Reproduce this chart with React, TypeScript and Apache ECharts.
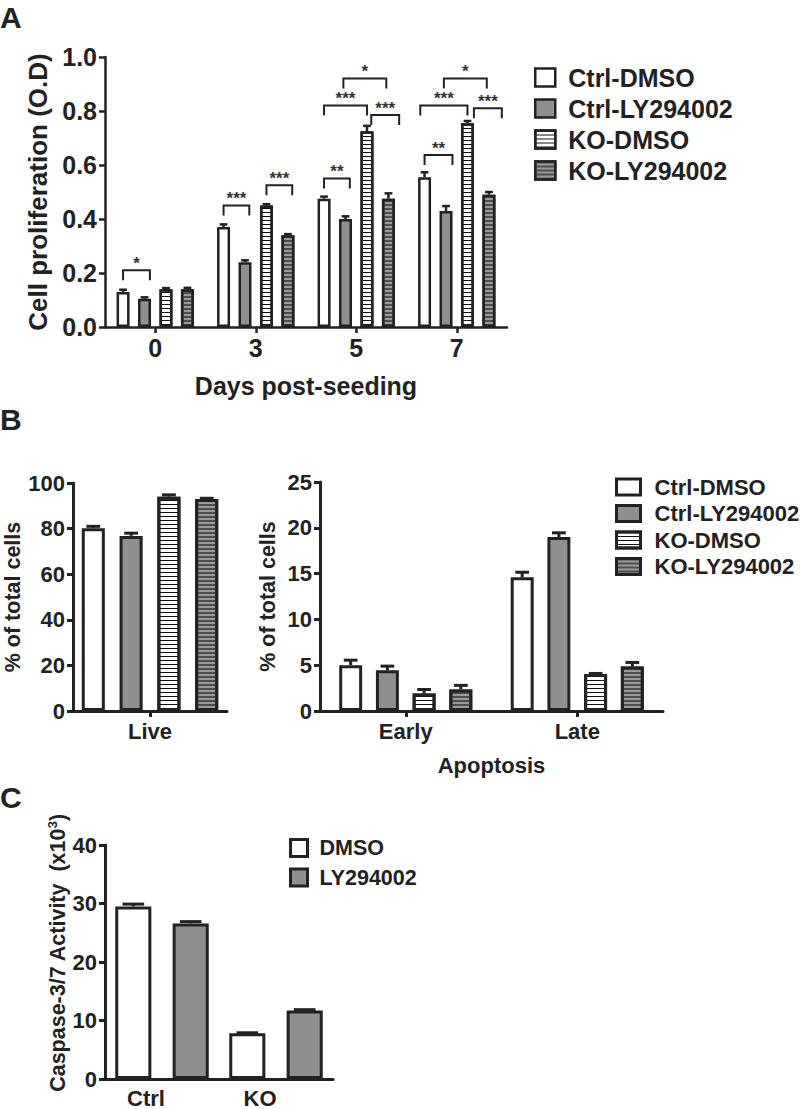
import React, { useEffect, useRef } from 'react';
import * as echarts from 'echarts';

const FONT = '"Liberation Sans", Arial, Helvetica, sans-serif';
const INK = '#222';

// ---------- Panel A : cell proliferation ----------
const GROUPS = ['Ctrl-DMSO', 'Ctrl-LY294002', 'KO-DMSO', 'KO-LY294002'];
const DAYS = ['0', '3', '5', '7'];
const A_CTRL_DMSO = [0.13, 0.37, 0.475, 0.555];
const A_CTRL_LY = [0.105, 0.24, 0.40, 0.43];
const A_KO_DMSO = [0.14, 0.45, 0.725, 0.755];
const A_KO_LY = [0.14, 0.34, 0.475, 0.49];
const A_ERR_CTRL_DMSO = [0.008, 0.01, 0.008, 0.018];
const A_ERR_CTRL_LY = [0.005, 0.007, 0.01, 0.018];
const A_ERR_KO_DMSO = [0.004, 0.005, 0.02, 0.008];
const A_ERR_KO_LY = [0.005, 0.004, 0.02, 0.01];
// [day index, from bar slot, to bar slot, bracket height]
const A_BRACKETS = [
  [0, 0, 1.25, 0.21],
  [1, 0, 1.2, 0.45],
  [1, 2, 3.2, 0.525],
  [2, 0, 1.2, 0.55],
  [2, 0, 2, 0.82],
  [2, 2.2, 3.5, 0.785],
  [2, 0.9, 2.9, 0.92],
  [3, 0, 1.3, 0.637],
  [3, -0.2, 2, 0.82],
  [3, 2.3, 3.6, 0.81],
  [3, 0.9, 2.9, 0.92],
];
const A_BRACKET_LABELS = ['*', '***', '***', '**', '***', '***', '*', '**', '***', '***', '*'];

// ---------- Panel B : live / apoptosis ----------
const B_LIVE_CATS = ['Live'];
const B_LIVE_CTRL_DMSO = [80.2];
const B_LIVE_CTRL_LY = [76.8];
const B_LIVE_KO_DMSO = [94.0];
const B_LIVE_KO_LY = [93.0];
const B_LIVE_ERR_CTRL_DMSO = [0.8];
const B_LIVE_ERR_CTRL_LY = [1.2];
const B_LIVE_ERR_KO_DMSO = [0.8];
const B_LIVE_ERR_KO_LY = [0.3];

const B_APO_CATS = ['Early', 'Late'];
const B_APO_CTRL_DMSO = [5.0, 14.6];
const B_APO_CTRL_LY = [4.45, 19.0];
const B_APO_KO_DMSO = [1.9, 4.05];
const B_APO_KO_LY = [2.35, 4.85];
const B_APO_ERR_CTRL_DMSO = [0.55, 0.55];
const B_APO_ERR_CTRL_LY = [0.45, 0.45];
const B_APO_ERR_KO_DMSO = [0.45, 0.05];
const B_APO_ERR_KO_LY = [0.45, 0.45];

// ---------- Panel C : caspase ----------
const C_CATS = ['Ctrl', 'KO'];
const C_GROUPS = ['DMSO', 'LY294002'];
const C_DMSO = [29.5, 7.8];
const C_LY = [26.6, 11.7];
const C_ERR_DMSO = [0.4, 0.1];
const C_ERR_LY = [0.3, 0.15];

// ---------- styles ----------
const STRIPE_DECAL = {
  symbol: 'rect', symbolSize: 1, dashArrayX: [10, 0], dashArrayY: [1, 3], color: '#111', rotation: 0,
};
const DARK_STRIPE_DECAL = {
  symbol: 'rect', symbolSize: 1, dashArrayX: [10, 0], dashArrayY: [2, 2], color: '#4d4d4d', rotation: 0,
};
function groupStyle(i: number, bw: number) {
  const base: any = { borderColor: INK, borderWidth: bw };
  if (i === 0) return { ...base, color: '#ffffff' };
  if (i === 1) return { ...base, color: '#8f8f8f' };
  if (i === 2) return { ...base, color: '#ffffff', decal: STRIPE_DECAL };
  return { ...base, color: '#9a9a9a', decal: DARK_STRIPE_DECAL };
}

function slotX(api: any, cat: number, slot: number, n: number, catGap: number, barGap: number) {
  const c = api.coord([cat, 0]);
  const band = api.size([1, 0])[0];
  const avail = band * (1 - catGap);
  const w = avail / (n + (n - 1) * barGap);
  return { x: c[0] - avail / 2 + w / 2 + slot * w * (1 + barGap), w };
}

function errorSeries(axisIdx: number, values: number[][], errs: number[][], catGap: number, barGap: number, lw: number) {
  const data: number[][] = [];
  values.forEach((vals, s) => vals.forEach((v, i) => data.push([i, s, v, errs[s][i]])));
  const n = values.length;
  return {
    type: 'custom',
    xAxisIndex: axisIdx,
    yAxisIndex: axisIdx,
    z: 5,
    silent: true,
    encode: { x: 0, y: 2 },
    data,
    renderItem: (params: any, api: any) => {
      const cat = api.value(0), slot = api.value(1), v = api.value(2), e = api.value(3);
      const { x, w } = slotX(api, cat, slot, n, catGap, barGap);
      const base = api.coord([cat, v])[1];
      const top = api.coord([cat, v + e])[1];
      const cap = w * 0.6;
      return {
        type: 'group',
        children: [
          { type: 'line', shape: { x1: x, y1: base, x2: x, y2: top }, style: { stroke: INK, lineWidth: lw } },
          { type: 'line', shape: { x1: x - cap / 2, y1: top, x2: x + cap / 2, y2: top }, style: { stroke: INK, lineWidth: lw } },
        ],
      };
    },
  };
}

function barSeries(names: string[], values: number[][], axisIdx: number, catGap: number, barGap: number, bw: number, styleFn: (i: number, bw: number) => any) {
  return values.map((vals, i) => ({
    type: 'bar',
    name: names[i],
    xAxisIndex: axisIdx,
    yAxisIndex: axisIdx,
    data: vals,
    barGap: `${barGap * 100}%`,
    barCategoryGap: `${catGap * 100}%`,
    itemStyle: styleFn(i, bw),
    emphasis: { disabled: true },
  }));
}

function catAxis(gridIndex: number, cats: string[], fontSize: number, margin: number, ticks: boolean, name = '', nameGap = 0, lw = 3, labelExtra: any = {}, nameSize = fontSize) {
  return {
    type: 'category',
    gridIndex,
    data: cats,
    name,
    nameLocation: 'middle',
    nameGap,
    nameTextStyle: { fontFamily: FONT, fontWeight: 'bold', fontSize: nameSize, color: INK },
    axisLine: { lineStyle: { color: INK, width: lw } },
    axisTick: { show: ticks, alignWithLabel: true, length: 6, lineStyle: { color: INK, width: lw } },
    axisLabel: { fontFamily: FONT, fontWeight: 'bold', fontSize, color: INK, margin, ...labelExtra },
    splitLine: { show: false },
  };
}

function valAxis(gridIndex: number, max: number, interval: number, fontSize: number, name: string, nameGap: number, lw: number, fmt?: (v: number) => string, nameExtra: any = {}, nameSize = fontSize) {
  return {
    type: 'value',
    gridIndex,
    min: 0,
    max,
    interval,
    name,
    nameLocation: 'middle',
    nameGap,
    nameRotate: 90,
    nameTextStyle: { fontFamily: FONT, fontWeight: 'bold', fontSize: nameSize, color: INK, ...nameExtra },
    axisLine: { show: true, lineStyle: { color: INK, width: lw } },
    axisTick: { show: true, length: 6, lineStyle: { color: INK, width: lw } },
    axisLabel: { fontFamily: FONT, fontWeight: 'bold', fontSize, color: INK, margin: 8, formatter: fmt },
    splitLine: { show: false },
  };
}

export default function App() {
  const ref = useRef<HTMLDivElement>(null);
  useEffect(() => {
    if (!ref.current) return;
    const chart = echarts.init(ref.current, undefined, { renderer: 'svg' });

    const A_VALUES = [A_CTRL_DMSO, A_CTRL_LY, A_KO_DMSO, A_KO_LY];
    const A_ERRS = [A_ERR_CTRL_DMSO, A_ERR_CTRL_LY, A_ERR_KO_DMSO, A_ERR_KO_LY];
    const BL_VALUES = [B_LIVE_CTRL_DMSO, B_LIVE_CTRL_LY, B_LIVE_KO_DMSO, B_LIVE_KO_LY];
    const BL_ERRS = [B_LIVE_ERR_CTRL_DMSO, B_LIVE_ERR_CTRL_LY, B_LIVE_ERR_KO_DMSO, B_LIVE_ERR_KO_LY];
    const BR_VALUES = [B_APO_CTRL_DMSO, B_APO_CTRL_LY, B_APO_KO_DMSO, B_APO_KO_LY];
    const BR_ERRS = [B_APO_ERR_CTRL_DMSO, B_APO_ERR_CTRL_LY, B_APO_ERR_KO_DMSO, B_APO_ERR_KO_LY];
    const C_VALUES = [C_DMSO, C_LY];
    const C_ERRS = [C_ERR_DMSO, C_ERR_LY];

    const A_GAP = [0.23, 0.65];
    const BL_GAP = [0.114, 0.64];
    const BR_GAP = [0.224, 0.6];
    const C_GAP = [0.18, 0.59];

    const bracketSeries = {
      type: 'custom',
      xAxisIndex: 0,
      yAxisIndex: 0,
      z: 6,
      silent: true,
      encode: { x: 0, y: 3 },
      data: A_BRACKETS,
      renderItem: (params: any, api: any) => {
        const cat = api.value(0);
        const a = slotX(api, cat, api.value(1), 4, A_GAP[0], A_GAP[1]).x;
        const b = slotX(api, cat, api.value(2), 4, A_GAP[0], A_GAP[1]).x;
        const y = api.coord([cat, api.value(3)])[1];
        const leg = 10;
        return {
          type: 'group',
          children: [
            { type: 'polyline', shape: { points: [[a, y + leg], [a, y], [b, y], [b, y + leg]] }, style: { stroke: INK, lineWidth: 2, fill: 'none' } },
            {
              type: 'text', x: (a + b) / 2, y: y - 7,
              style: { text: A_BRACKET_LABELS[params.dataIndex], fontFamily: FONT, fontWeight: 'bold', fontSize: 17, fill: '#333', align: 'center', verticalAlign: 'middle' },
            },
          ],
        };
      },
    };

    const legendBase = (idx: number, data: string[], left: number, top: number, iw: number, ih: number, gap: number, fs: number, pad: number, bw: number) => ({
      id: 'lg' + idx,
      orient: 'vertical',
      left, top,
      padding: 0,
      itemWidth: iw,
      itemHeight: ih,
      itemGap: gap,
      icon: 'rect',
      selectedMode: false,
      data,
      itemStyle: { borderColor: INK, borderWidth: bw },
      textStyle: { fontFamily: FONT, fontWeight: 'bold', fontSize: fs, color: INK, padding: [0, 0, 0, pad] },
    });

    const option: any = {
      animation: false,
      backgroundColor: '#ffffff',
      grid: [
        { left: 105, top: 57, width: 402, height: 270 },
        { left: 73, top: 483, width: 154, height: 228 },
        { left: 320, top: 482, width: 343, height: 229 },
        { left: 105, top: 845, width: 228, height: 236 },
      ],
      xAxis: [
        catAxis(0, DAYS, 25, 8, true, 'Days post-seeding', 46, 2.5, {}, 25),
        catAxis(1, B_LIVE_CATS, 22, 9, true, '', 0, 3),
        catAxis(2, B_APO_CATS, 22, 9, true, 'Apoptosis', 43, 3),
        catAxis(3, C_CATS, 22, 8, false, '', 0, 3, { padding: [0, 32, 0, 0] }),
      ],
      yAxis: [
        valAxis(0, 1, 0.2, 25, 'Cell proliferation (O.D)', 51, 2.5, (v: number) => v.toFixed(1), {}, 26),
        valAxis(1, 100, 20, 22, '% of total cells', 44, 3, undefined, {}, 21.5),
        valAxis(2, 25, 5, 22, '% of total cells', 41, 3, undefined, {}, 21.5),
        valAxis(3, 40, 10, 22, 'Caspase-3/7 Activity  (x10{sup|3})', 33, 3, undefined, {
          padding: [0, 0, 0, 18],
          rich: { sup: { fontFamily: FONT, fontWeight: 'bold', fontSize: 13, color: INK, verticalAlign: 'top', padding: [0, 0, 10, 0] } },
        }, 21.5),
      ],
      legend: [
        legendBase(0, GROUPS, 534, 65, 20, 18, 6, 25, 8, 2.5),
        legendBase(1, GROUPS, 615, 476, 24, 16, 4.5, 22, 9, 3),
        legendBase(2, C_GROUPS, 289, 837, 17, 17, 7.5, 21.5, 7, 3),
      ],
      graphic: [
        { type: 'text', left: 0, top: 2, style: { text: 'A', fontFamily: FONT, fontWeight: 'bold', fontSize: 30, fill: INK } },
        { type: 'text', left: 0, top: 404, style: { text: 'B', fontFamily: FONT, fontWeight: 'bold', fontSize: 30, fill: INK } },
        { type: 'text', left: 0, top: 782, style: { text: 'C', fontFamily: FONT, fontWeight: 'bold', fontSize: 30, fill: INK } },
      ],
      series: [
        ...barSeries(GROUPS, A_VALUES, 0, A_GAP[0], A_GAP[1], 2.5, groupStyle),
        errorSeries(0, A_VALUES, A_ERRS, A_GAP[0], A_GAP[1], 2.5),
        bracketSeries,
        ...barSeries(GROUPS, BL_VALUES, 1, BL_GAP[0], BL_GAP[1], 3, groupStyle),
        errorSeries(1, BL_VALUES, BL_ERRS, BL_GAP[0], BL_GAP[1], 3),
        ...barSeries(GROUPS, BR_VALUES, 2, BR_GAP[0], BR_GAP[1], 3, groupStyle),
        errorSeries(2, BR_VALUES, BR_ERRS, BR_GAP[0], BR_GAP[1], 3),
        ...barSeries(C_GROUPS, C_VALUES, 3, C_GAP[0], C_GAP[1], 3, groupStyle),
        errorSeries(3, C_VALUES, C_ERRS, C_GAP[0], C_GAP[1], 3),
      ],
    };
    chart.setOption(option);
    return () => chart.dispose();
  }, []);
  return <div ref={ref} style={{ position: 'absolute', left: 0, top: 0, width: 800, height: 1109 }} />;
}
